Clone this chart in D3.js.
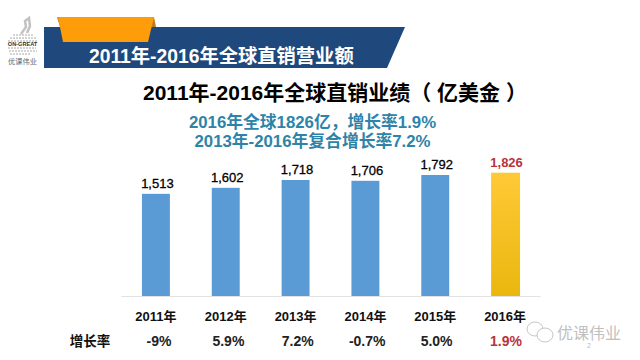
<!DOCTYPE html>
<html>
<head>
<meta charset="utf-8">
<script src="https://cdnjs.cloudflare.com/ajax/libs/d3/7.8.5/d3.min.js"></script>
<style>
html, body { margin: 0; padding: 0; background: #fff; }
svg { display: block; }
text { font-family: "Liberation Sans", "Noto Sans CJK SC", sans-serif; }
</style>
</head>
<body>
<svg id="chart" width="640" height="360"></svg>
<script>
const years = ["2011年", "2012年", "2013年", "2014年", "2015年", "2016年"];
const sales = [1513, 1602, 1718, 1706, 1792, 1826];
const growth = ["-9%", "5.9%", "7.2%", "-0.7%", "5.0%", "1.9%"];
const highlight = "2016年";

const svg = d3.select("#chart");

var x = d3.scaleBand().domain(years).range([121, 540]).paddingInner(0.6).paddingOuter(0.3);
var y = d3.scaleLinear().domain([0, 1826]).range([296, 172.7]);
// growth row is not quite under the bars in the original
var xGrowth = d3.scalePoint().domain(years).range([159, 506]);

// header banner
svg.append("path").attr("d", "M44 27H405L387 68H44Z").attr("fill", "#1f497d");
svg.append("path").attr("d", "M57 17L60 27H153L156 27L154 17Z").attr("fill", "#b97f1c");
svg.append("path").attr("d", "M58 17H154L148 42H63Z").attr("fill", "#ff9c0a");
svg.append("text").attr("x", 89).attr("y", 63)
  .attr("font-size", 19.3).attr("font-weight", "bold").attr("fill", "#fff")
  .text("2011年-2016年全球直销营业额");

// logo, roughly
var logo = svg.append("g").attr("fill", "none").attr("stroke", "#a8a8a8");
logo.append("path").attr("d", "M21 34L26 27L25 21L29 18L30 26L27 33").attr("stroke-width", 2.5).attr("stroke", "#c2c2c2");
logo.append("path").attr("d", "M13 35H34M10 38H37M8 41H38").attr("stroke-width", 1).attr("stroke-dasharray", "2 1");
logo.append("path").attr("d", "M8 48H36M9 51H37M10 54H30").attr("stroke-width", 1).attr("stroke-dasharray", "2 1");
svg.append("text").attr("x", 22.5).attr("y", 46).attr("text-anchor", "middle")
  .attr("font-size", 5.6).attr("font-weight", "bold").attr("fill", "#333").text("ON-GREAT");
svg.append("text").attr("x", 22.5).attr("y", 64).attr("text-anchor", "middle")
  .attr("font-size", 7.2).attr("fill", "#666").text("优课伟业");

// titles
svg.append("text").attr("x", 143).attr("y", 100)
  .attr("font-size", 21).attr("font-weight", "bold").attr("fill", "#000")
  .text("2011年-2016年全球直销业绩（ 亿美金 ）");
svg.append("text").attr("x", 312.5).attr("y", 128).attr("text-anchor", "middle")
  .attr("font-size", 16.8).attr("font-weight", "bold").attr("fill", "#2e83a8")
  .text("2016年全球1826亿，增长率1.9%");
svg.append("text").attr("x", 312.5).attr("y", 147).attr("text-anchor", "middle")
  .attr("font-size", 16.8).attr("font-weight", "bold").attr("fill", "#2e83a8")
  .text("2013年-2016年复合增长率7.2%");

// gradient for highlighted bar
var grad = svg.append("defs").append("linearGradient")
  .attr("id", "gold").attr("x1", 0).attr("y1", 0).attr("x2", 0).attr("y2", 1);
grad.append("stop").attr("offset", "0%").attr("stop-color", "#ffc936");
grad.append("stop").attr("offset", "100%").attr("stop-color", "#eab70f");

// bars
svg.selectAll("rect.bar").data(years).join("rect")
  .attr("class", "bar")
  .attr("x", d => x(d))
  .attr("width", d => d === highlight ? x.bandwidth() + 1 : x.bandwidth())
  .attr("y", (d, i) => y(sales[i]))
  .attr("height", (d, i) => y(0) - y(sales[i]))
  .attr("fill", d => d === highlight ? "url(#gold)" : "#5b9bd5");

// value labels
svg.selectAll("text.val").data(years).join("text")
  .attr("class", "val")
  .attr("x", d => x(d) + x.bandwidth() / 2 + 1.5)
  .attr("y", (d, i) => y(sales[i]) - 6)
  .attr("text-anchor", "middle")
  .attr("font-size", 13).attr("font-weight", d => d === highlight ? "bold" : "normal")
  .attr("stroke", d => d === highlight ? "none" : "#000").attr("stroke-width", 0.3)
  .attr("fill", d => d === highlight ? "#b8343c" : "#000")
  .text((d, i) => d3.format(",d")(sales[i]));

// x axis
var axis = svg.append("g").attr("transform", "translate(0,296)")
  .call(d3.axisBottom(x).tickSize(0).tickPadding(16));
axis.select(".domain").attr("stroke", "#e2e2e2");
axis.selectAll("text").attr("font-size", 13).attr("font-weight", "bold").attr("fill", "#111")
  .style("font-family", '"Liberation Sans", "Noto Sans CJK SC", sans-serif');

// growth row
svg.append("text").attr("x", 90).attr("y", 346).attr("text-anchor", "middle")
  .attr("font-size", 13.5).attr("font-weight", "bold").attr("fill", "#111").text("增长率");
svg.selectAll("text.gr").data(years).join("text")
  .attr("class", "gr")
  .attr("x", d => xGrowth(d))
  .attr("y", 346)
  .attr("text-anchor", "middle")
  .attr("font-size", 14).attr("font-weight", "bold")
  .attr("fill", d => d === highlight ? "#b8343c" : "#222")
  .text((d, i) => growth[i]);

// watermark
var wm = svg.append("g").attr("fill", "none").attr("stroke", "#c6c6c6").attr("stroke-width", 1);
wm.append("ellipse").attr("cx", 535).attr("cy", 329).attr("rx", 8).attr("ry", 7);
wm.append("ellipse").attr("cx", 545).attr("cy", 335).attr("rx", 8).attr("ry", 7).attr("fill", "#fff");
svg.append("text").attr("x", 557).attr("y", 339)
  .attr("font-size", 16).attr("fill", "#c0c0c0").text("优课伟业");
svg.append("text").attr("x", 589).attr("y", 348)
  .attr("text-anchor", "middle").attr("font-size", 7).attr("fill", "#bbb").text("2");
</script>
</body>
</html>
